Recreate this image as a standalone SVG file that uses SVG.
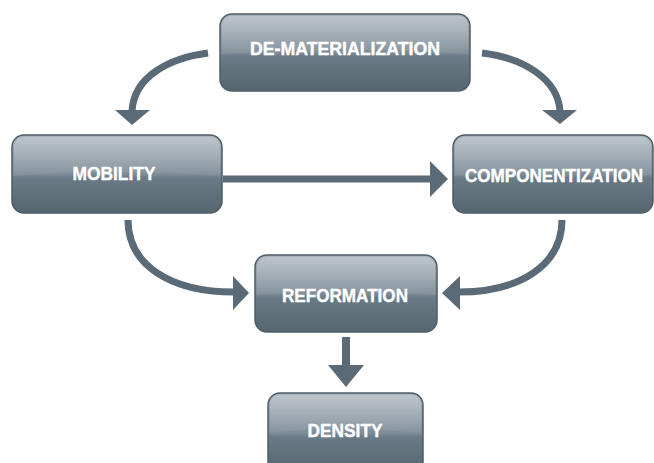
<svg xmlns="http://www.w3.org/2000/svg" width="654" height="463" viewBox="0 0 654 463">
<defs>
<linearGradient id="boxg" x1="0" y1="0" x2="0" y2="1">
<stop offset="0" stop-color="#a9b3bb"/>
<stop offset="0.5" stop-color="#7f8d98"/>
<stop offset="0.55" stop-color="#6a7a86"/>
<stop offset="1" stop-color="#56666f"/>
</linearGradient>
<linearGradient id="gloss" x1="0" y1="0" x2="0" y2="1">
<stop offset="0" stop-color="#ffffff" stop-opacity="0.25"/>
<stop offset="1" stop-color="#ffffff" stop-opacity="0.05"/>
</linearGradient>
</defs>
<style>
.box{fill:url(#boxg);stroke:#4d5c67;stroke-width:1.5}
.gl{fill:url(#gloss)}
.lbl{fill:#ffffff;stroke:#ffffff;stroke-width:0.4;font-family:"Liberation Sans",Arial,sans-serif;font-weight:bold;font-size:19px;text-anchor:middle}
.ln{fill:none;stroke:#5a6a77;stroke-width:7}
.hd{fill:#5a6a77}
</style>
<rect width="654" height="463" fill="#ffffff"/>
<g id="connectors">
<path class="ln" d="M208,53 C170,58 134,76 132,111"/>
<polygon class="hd" points="115,110 150,110 132,125"/>
<path class="ln" d="M482,53 C525,58 558,80 560,111"/>
<polygon class="hd" points="542,110 577,110 560,124"/>
<path class="ln" d="M128,220 C128,265 170,292 234,292"/>
<polygon class="hd" points="233,276 233,310 249,293"/>
<path class="ln" d="M562,220 C562,265 520,292 459,292"/>
<polygon class="hd" points="460,276 460,310 442,293"/>
<path class="ln" d="M223,179 L431,179"/>
<polygon class="hd" points="430,161 430,197 448,179"/>
<path class="ln" d="M346,337 L346,366" style="stroke-width:8"/>
<polygon class="hd" points="328,365 364,365 346,387"/>
</g>
<g id="n-dematerialization">
<rect class="box" x="220" y="14" width="250" height="77" rx="12"/>
<path class="gl" d="M222,54 L222,27 Q222,16 233,16 L457,16 Q468,16 468,27 L468,54 Q345,46 222,54 Z"/>
<text class="lbl" x="345" y="55" textLength="190" lengthAdjust="spacingAndGlyphs">DE-MATERIALIZATION</text>
</g>
<g id="n-mobility">
<rect class="box" x="12" y="135" width="210" height="78" rx="12"/>
<path class="gl" d="M14,176 L14,148 Q14,137 25,137 L209,137 Q220,137 220,148 L220,176 Q117,168 14,176 Z"/>
<text class="lbl" x="114" y="180" textLength="83" lengthAdjust="spacingAndGlyphs">MOBILITY</text>
</g>
<g id="n-componentization">
<rect class="box" x="453" y="135" width="200" height="78" rx="12"/>
<path class="gl" d="M455,176 L455,148 Q455,137 466,137 L640,137 Q651,137 651,148 L651,176 Q553,168 455,176 Z"/>
<text class="lbl" x="554" y="182" style="font-size:17.5px" textLength="178" lengthAdjust="spacingAndGlyphs">COMPONENTIZATION</text>
</g>
<g id="n-reformation">
<rect class="box" x="255" y="255" width="182" height="77" rx="12"/>
<path class="gl" d="M257,295 L257,268 Q257,257 268,257 L424,257 Q435,257 435,268 L435,295 Q346,287 257,295 Z"/>
<text class="lbl" x="345" y="302" textLength="126" lengthAdjust="spacingAndGlyphs">REFORMATION</text>
</g>
<g id="n-density">
<rect class="box" x="268" y="393" width="155" height="80" rx="12"/>
<path class="gl" d="M270,433 L270,406 Q270,395 281,395 L410,395 Q421,395 421,406 L421,433 Q345,425 270,433 Z"/>
<text class="lbl" x="345" y="437" textLength="75" lengthAdjust="spacingAndGlyphs">DENSITY</text>
</g>
</svg>
